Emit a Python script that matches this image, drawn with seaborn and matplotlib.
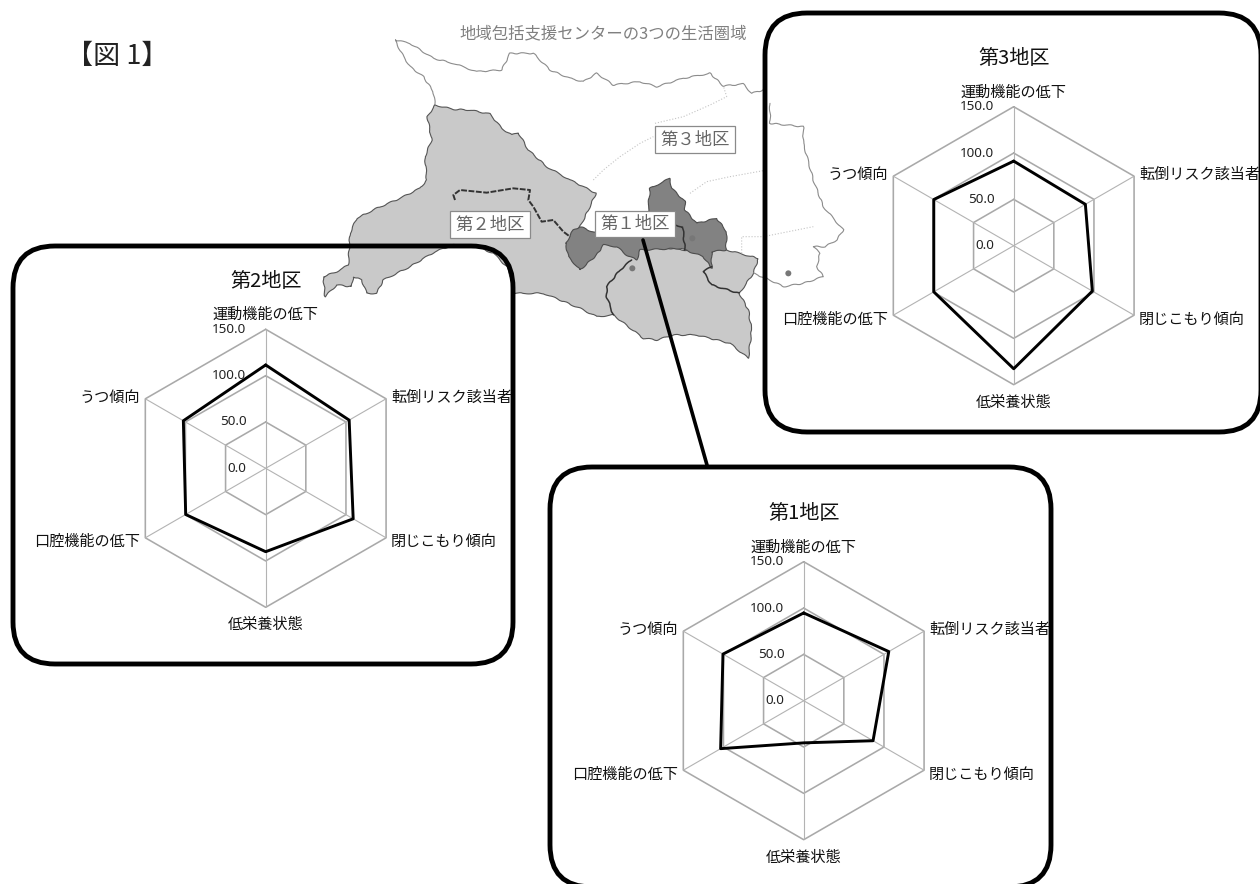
import numpy as np
import matplotlib
matplotlib.use('Agg')
import matplotlib.pyplot as plt
from matplotlib.patches import FancyBboxPatch, Polygon, Rectangle, Circle
import seaborn as sns

# values
categories = ['運動機能の低下', '転倒リスク該当者', '閉じこもり傾向', '低栄養状態', '口腔機能の低下', 'うつ傾向']
values_1 = [94.7, 106.0, 86.4, 45.5, 103.5, 100.6]
values_2 = [111.5, 104.0, 109.0, 90.0, 99.7, 102.6]
values_3 = [91.3, 89.3, 98.0, 132.8, 99.6, 99.6]
rings = [50, 100, 150]
tick_values = [0, 50, 100, 150]

# map outlines (3x zoom coords from 320,10)
map_gray = [(345, 285), (400, 298), (450, 300), (510, 312), (545, 355), (575, 375), (595, 368), (625, 420),
            (680, 470), (750, 510), (790, 530), (828, 550), (805, 600), (780, 650), (760, 680), (1090, 720),
            (1220, 720), (1315, 745), (1300, 790), (1258, 850), (1285, 900), (1295, 960), (1285, 1045),
            (1230, 1000), (1130, 975), (1060, 975), (1010, 990), (970, 985), (880, 915), (830, 920),
            (780, 895), (720, 870), (670, 850), (610, 850), (585, 850), (580, 820), (560, 770), (520, 730),
            (470, 710), (400, 705), (345, 725), (270, 770), (190, 810), (170, 850), (140, 850), (125, 810),
            (100, 800), (95, 830), (50, 825), (15, 860), (10, 800), (50, 785), (85, 765), (90, 670),
            (110, 625), (170, 595), (240, 565), (300, 535), (320, 510), (315, 440), (335, 390), (322, 320)]
map_dark = [(737, 700), (760, 660), (780, 650), (830, 670), (985, 650), (985, 590),
            (990, 535), (1020, 520), (1050, 505), (1055, 535), (1095, 575), (1095, 600), (1130, 640),
            (1190, 625), (1220, 665), (1218, 720), (1175, 725), (1175, 775), (1150, 740), (1095, 720),
            (1085, 715), (960, 720), (950, 750), (920, 735), (890, 710), (850, 705), (830, 735), (780, 780),
            (745, 740)]
map_enclave = [(405, 570), (400, 555), (420, 540), (500, 548), (580, 535), (630, 540), (625, 570), (640, 590),
               (665, 635), (700, 630), (730, 665), (750, 680)]
map_south = [(935, 750), (900, 780), (860, 830), (860, 860), (880, 915)]
map_east = [(1175, 770), (1150, 785), (1175, 825), (1258, 850)]
map_inner = [(1065, 645), (1088, 650), (1095, 720)]
map_north = [(345, 285), (340, 245), (310, 200), (270, 170), (245, 130), (225, 90), (270, 100), (340, 145),
             (400, 160), (470, 185), (545, 180), (570, 130), (640, 130), (690, 180), (750, 205), (790, 215),
             (830, 190), (880, 225), (960, 215), (1010, 230), (1090, 205), (1170, 190), (1210, 228),
             (1270, 222), (1295, 250), (1330, 240)]
map_coast = [(1350, 280), (1350, 340), (1450, 350), (1450, 400), (1480, 510), (1510, 590), (1570, 660),
             (1550, 690), (1515, 710), (1480, 710), (1500, 730), (1490, 770), (1510, 800), (1450, 820),
             (1390, 830), (1350, 810), (1300, 790)]
map_faint = [[(820, 510), (850, 480), (900, 440), (960, 400), (1000, 380)],
             [(1005, 340), (1090, 320), (1170, 285), (1220, 260), (1210, 228)],
             [(1110, 550), (1160, 515), (1230, 500), (1330, 482)],
             [(1265, 730), (1265, 680), (1330, 680), (1480, 650)]]


def zoomed(points):
    return [(320 + x / 3, 10 + y / 3) for x, y in points]


def draw_radar(fig, values, title, cx, cy, radius=139):
    """One radar chart, centred on pixel (cx, cy)."""
    ax = fig.add_axes([(cx - radius) / 1260, 1 - (cy + radius) / 884, 2 * radius / 1260, 2 * radius / 884],
                      polar=True)
    ax.set_theta_zero_location('N')
    ax.set_theta_direction(-1)
    ax.patch.set_alpha(0)
    ax.grid(False)
    ax.spines['polar'].set_visible(False)
    ax.set_xticks([])
    ax.set_yticks([])
    ax.set_ylim(0, 150)

    angles = np.deg2rad(np.arange(len(categories)) * 60)
    closed_angles = np.append(angles, angles[0])

    for ring in rings:
        ax.plot(closed_angles, [ring] * len(closed_angles), color='#a9a9a9', lw=1.15, clip_on=False)
    for angle in angles:
        ax.plot([angle, angle], [0, 150], color='#b3b3b3', lw=0.8)

    sns.lineplot(x=closed_angles, y=np.append(values, values[0]), sort=False, estimator=None,
                 color='black', linewidth=2.1, ax=ax, clip_on=False, legend=False)
    ax.set_xlabel('')
    ax.set_ylabel('')
    ax.set_ylim(0, 150)

    for tick in tick_values:
        ax.annotate(f'{tick:.1f}', xy=(0, tick), xytext=(-14, 0), textcoords='offset points',
                    ha='right', va='center', fontsize=9.7, color='#222222', family='Noto Sans',
                    annotation_clip=False)

    # category labels sit just outside the outer ring
    offsets = [(0, 10.5, 'center'), (3.6, 1, 'left'), (3.6, -3, 'left'), (0, -12.5, 'center'),
               (-4, -3, 'right'), (-4, 1, 'right')]
    for angle, name, (dx, dy, align) in zip(angles, categories, offsets):
        ax.annotate(name, xy=(angle, 150), xytext=(dx, dy), textcoords='offset points',
                    ha=align, va='center', fontsize=10.9, color='#111111', annotation_clip=False)

    ax.annotate(title, xy=(0, 150), xytext=(0, 34.5), textcoords='offset points',
                ha='center', va='center', fontsize=14.5, color='#111111', annotation_clip=False)
    return ax


def main():
    sns.set_theme(style='white')
    plt.rcParams['font.family'] = ['Noto Sans CJK JP', 'DejaVu Sans']

    fig = plt.figure(figsize=(12.6, 8.84), dpi=100)
    bg = fig.add_axes([0, 0, 1, 1])
    bg.set_xlim(0, 1260)
    bg.set_ylim(884, 0)
    bg.axis('off')

    # map behind the charts, sketch params give the ragged scanned edge
    ragged = (0.6, 16, 2)
    gray = Polygon(zoomed(map_gray), closed=True, facecolor='#c9c9c9', edgecolor='#555555', lw=0.8)
    gray.set_sketch_params(*ragged)
    bg.add_patch(gray)
    dark = Polygon(zoomed(map_dark), closed=True, facecolor='#828282', edgecolor='#4d4d4d', lw=0.8)
    dark.set_sketch_params(*ragged)
    bg.add_patch(dark)
    xs, ys = zip(*zoomed(map_enclave))
    bg.plot(xs, ys, color='#333333', lw=1.4, ls=(0, (3, 0.8)))
    for line in [map_south, map_east, map_inner]:
        xs, ys = zip(*zoomed(line))
        bg.plot(xs, ys, color='#333333', lw=1.1)[0].set_sketch_params(*ragged)
    for line in [map_north, map_coast]:
        xs, ys = zip(*zoomed(line))
        bg.plot(xs, ys, color='#8c8c8c', lw=0.8)[0].set_sketch_params(*ragged)
    for line in map_faint:
        xs, ys = zip(*zoomed(line))
        bg.plot(xs, ys, color='#c4c4c4', lw=0.8, ls=':')
    for x, y in [(1117, 685), (937, 775), (1405, 790)]:
        cx, cy = zoomed([(x, y)])[0]
        bg.add_patch(Circle((cx, cy), 3, facecolor='#777777', edgecolor='none'))

    bg.text(603, 34, '地域包括支援センターの3つの生活圏域', ha='center', va='center', fontsize=11.8, color='#808080')
    bg.text(117.5, 56, '【図 1】', ha='center', va='center', fontsize=19.5, color='#222222')

    # little name plates on the map
    for x0, y0, x1, y1, name in [(655, 126, 735, 153, '第３地区'), (450, 211, 530, 238, '第２地区'),
                                 (595, 211, 675, 237, '第１地区')]:
        bg.add_patch(Rectangle((x0, y0), x1 - x0, y1 - y0, facecolor='white', edgecolor='#8a8a8a', lw=0.9, zorder=3))
        bg.text((x0 + x1) / 2, (y0 + y1) / 2, name, ha='center', va='center', fontsize=12.5,
                color='#666666', zorder=4)

    # rounded frames; the almost clear face stops agg mangling curves that run off the canvas
    for x0, y0, x1, y1 in [(13, 246, 513, 664), (765, 13, 1261, 432), (550, 467, 1051, 887)]:
        bg.add_patch(FancyBboxPatch((x0, y0), x1 - x0, y1 - y0, boxstyle='round,pad=0,rounding_size=42',
                                    facecolor=(1, 1, 1, 0.001), edgecolor='black', lw=3.5, zorder=5, clip_on=False))
    bg.plot([643, 707], [240, 465], color='black', lw=2.6, zorder=5)

    draw_radar(fig, values_2, '第2地区', 265.7, 468.3)
    draw_radar(fig, values_3, '第3地区', 1013.7, 245.7)
    draw_radar(fig, values_1, '第1地区', 803.7, 700.7)

    fig.savefig('out.png', dpi=100, facecolor='white')
    plt.close(fig)


if __name__ == "__main__":
    main()
